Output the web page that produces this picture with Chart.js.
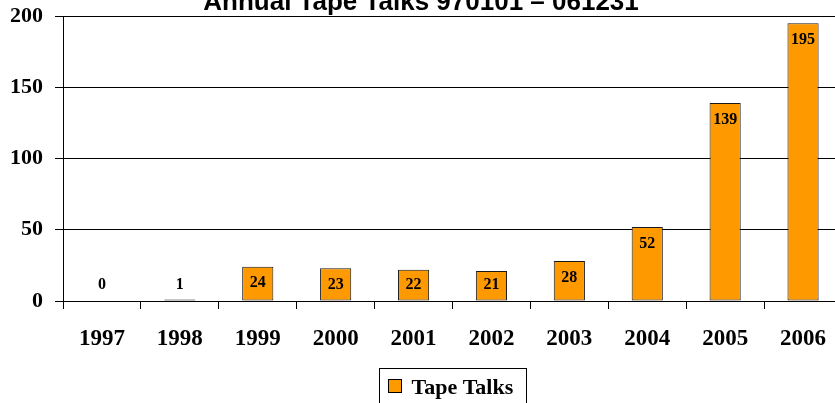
<!DOCTYPE html>
<html>
<head>
<meta charset="utf-8">
<title>Annual Tape Talks</title>
<script src="https://cdn.jsdelivr.net/npm/chart.js@4"></script>
<style>
  html, body { margin: 0; padding: 0; background: #fff; overflow: hidden; }
  #wrap { width: 842px; height: 403px; }
</style>
</head>
<body>
<div id="wrap"><canvas id="tapeTalks" width="842" height="403"></canvas></div>
<script>
// Chart data
const years = ['1997', '1998', '1999', '2000', '2001', '2002', '2003', '2004', '2005', '2006'];
const talks = [0, 1, 24, 23, 22, 21, 28, 52, 139, 195];
const yMin = 0;
const yMax = 200;
const yStep = 50;
const titleText = 'Annual Tape Talks 970101 \u2013 061231';
const seriesName = 'Tape Talks';

const serif = '"Liberation Serif", "Times New Roman", serif';
const orange = '#FF9900';

// title, value labels and boxed legend, drawn the Excel way
const extras = {
  id: 'extras',
  afterDatasetsDraw(chart) {
    const ctx = chart.ctx;
    const meta = chart.getDatasetMeta(0);
    const base = chart.scales.y.getPixelForValue(0);
    ctx.save();
    ctx.fillStyle = '#000';
    ctx.font = 'bold 16px ' + serif;
    ctx.textAlign = 'center';
    ctx.textBaseline = 'middle';
    meta.data.forEach((bar, i) => {
      const y = Math.min(bar.y + 16.5, base - 16);
      ctx.fillText(String(talks[i]), bar.x, y);
    });
    ctx.restore();
  },
  afterDraw(chart) {
    const ctx = chart.ctx;
    const area = chart.chartArea;
    ctx.save();
    // title (cut off by the top edge, as in the original)
    ctx.fillStyle = '#000';
    ctx.font = 'bold 26px "Liberation Sans", Arial, sans-serif';
    ctx.textAlign = 'center';
    ctx.textBaseline = 'alphabetic';
    ctx.fillText(titleText, 421, 9.5);

    // legend
    const cx = (area.left + area.right) / 2;
    const w = 147;
    const x0 = Math.round(cx - w / 2) + 0.5;
    const y0 = 368.5;
    ctx.strokeStyle = '#000';
    ctx.lineWidth = 1;
    ctx.strokeRect(x0, y0, w, 50);
    ctx.fillStyle = orange;
    ctx.fillRect(x0 + 9, y0 + 11, 13, 13);
    ctx.strokeRect(x0 + 9, y0 + 11, 13, 13);
    ctx.fillStyle = '#000';
    ctx.font = 'bold 22px ' + serif;
    ctx.textAlign = 'left';
    ctx.textBaseline = 'alphabetic';
    ctx.fillText(seriesName, x0 + 32, 394);
    ctx.restore();
  }
};

const config = {
  type: 'bar',
  data: {
    labels: years,
    datasets: [{
      label: seriesName,
      data: talks,
      backgroundColor: orange,
      borderColor: '#1a1a1a',
      borderWidth: 1,
      borderSkipped: false,
      barPercentage: 0.4,
      categoryPercentage: 1.0
    }]
  },
  options: {
    responsive: false,
    animation: false,
    layout: { padding: { top: 16, left: 0, right: 0, bottom: 0 } },
    plugins: {
      legend: { display: false },
      title: { display: false },
      tooltip: { enabled: false }
    },
    scales: {
      x: {
        offset: true,
        grid: {
          display: true,
          drawOnChartArea: false,
          drawTicks: true,
          tickLength: 8,
          color: '#000',
          lineWidth: 1
        },
        border: { display: true, color: '#000', width: 1 },
        ticks: {
          color: '#000',
          padding: 16,
          maxRotation: 0,
          font: { family: serif, size: 23, weight: 'bold' }
        },
        afterFit(scale) {
          scale.height = 102;
          scale.paddingLeft = 0;
          scale.paddingRight = 0;
        }
      },
      y: {
        min: yMin,
        max: yMax,
        ticks: {
          stepSize: yStep,
          color: '#000',
          padding: 12,
          font: { family: serif, size: 22, weight: 'bold' }
        },
        grid: {
          color: '#000',
          lineWidth: 1,
          drawTicks: true,
          tickLength: 8
        },
        border: { display: true, color: '#000', width: 1 },
        afterFit(scale) {
          scale.width = 63;
          scale.paddingTop = 0;
          scale.paddingBottom = 0;
        }
      }
    }
  },
  plugins: [extras]
};

new Chart(document.getElementById('tapeTalks').getContext('2d'), config);
</script>
</body>
</html>
